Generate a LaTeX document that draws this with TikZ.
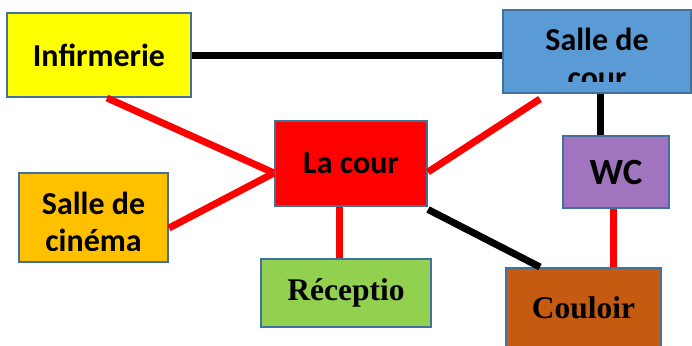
\documentclass[tikz,border=0pt]{standalone}
\usepackage{fontspec}
\setmainfont{Carlito}
\newfontfamily\serifbold{Liberation Serif}
\definecolor{bordc}{HTML}{41719C}
\definecolor{cyel}{HTML}{FFFF00}
\definecolor{cblue}{HTML}{5B9BD5}
\definecolor{cred}{HTML}{FF0000}
\definecolor{cgold}{HTML}{FFC000}
\definecolor{cgreen}{HTML}{92D050}
\definecolor{cpurp}{HTML}{A074BE}
\definecolor{cbrown}{HTML}{C55A11}
\setlength{\tabcolsep}{0pt}
\begin{document}
\begin{tikzpicture}[x=1pt,y=-1pt,
  room/.style={draw=bordc, line width=2pt, inner sep=0pt, font=\fontsize{32}{36.5}\selectfont\bfseries},
  serifroom/.style={room, font=\fontsize{31.5}{36}\selectfont\serifbold\bfseries},
  twoline/.style={anchor=base, inner sep=0pt, font=\fontsize{32}{37.5}\selectfont\bfseries},
  redlink/.style={draw=cred, line width=7pt},
  blacklink/.style={draw=black, line width=7pt}]
\useasboundingbox (0,0) rectangle (692,345);
% rooms
\node[room, fill=cyel, minimum width=184pt, minimum height=84pt] (inf) at (99,55) {Infirmerie};
\node[room, fill=cblue, minimum width=188pt, minimum height=83pt] (sdc) at (597,51.5) {};
\node[room, fill=cred, minimum width=152pt, minimum height=85pt] (lac) at (351,163) {La cour};
\node[room, fill=cgold, minimum width=149pt, minimum height=89pt] (cin) at (93.5,217.5) {};
\node[serifroom, fill=cgreen, minimum width=170pt, minimum height=68pt] (rec) at (346,293) {Réceptio};
\node[room, fill=cpurp, minimum width=106pt, minimum height=72pt, font=\fontsize{37}{40}\selectfont\bfseries] (wc) at (616,172) {WC};
\node[serifroom, fill=cbrown, minimum width=155pt, minimum height=80pt] (cou) at (583.5,308) {Couloir};
% clipped two-line texts
\begin{scope}
  \clip (sdc.north west) rectangle (sdc.east |- 0,81.5);
  \node[twoline] (sdctext) at (597,51) {\begin{tabular}[t]{c}Salle de\\cour\end{tabular}};
\end{scope}
\begin{scope}
  \clip (cin.north west) rectangle (cin.east |- 0,250.5);
  \node[twoline] (cintext) at (93.5,214) {\begin{tabular}[t]{c}Salle de\\cinéma\end{tabular}};
\end{scope}
% connectors
\draw[blacklink] (inf.east) -- (inf.east -| sdc.west);
\draw[redlink] ([xshift=8pt]inf.south) -- ([yshift=-10pt]lac.west);
\draw[redlink] ([yshift=-10.5pt]cin.east) -- ([yshift=-10pt]lac.west);
\draw[redlink] ([yshift=-9pt]lac.east) -- ([xshift=-57pt,yshift=-5pt]sdc.south);
\draw[blacklink] ([xshift=3pt]sdc.south) -- ([xshift=-16pt]wc.north);
\draw[redlink] ([xshift=-12pt]lac.south) -- ([xshift=-7pt]rec.north);
\draw[blacklink] ([yshift=-3pt]lac.south east) -- ([xshift=-43.5pt]cou.north);
\draw[redlink] ([xshift=-3pt]wc.south) -- ([xshift=29.5pt]cou.north);
\end{tikzpicture}
\end{document}
